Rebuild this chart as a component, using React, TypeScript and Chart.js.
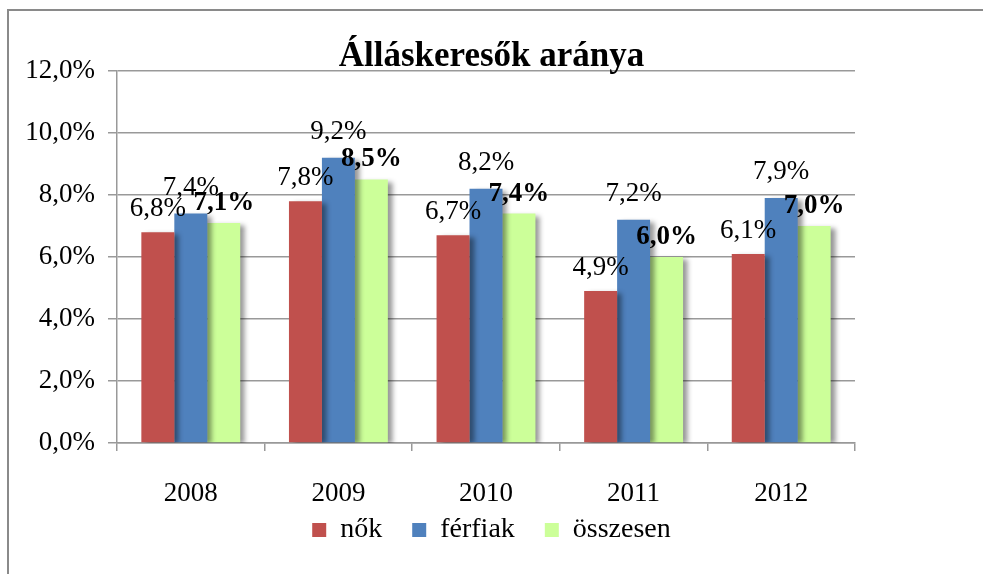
import React, { useEffect, useRef } from "react";
import { Chart, registerables } from "chart.js";

Chart.register(...registerables);

const categories = ["2008", "2009", "2010", "2011", "2012"];
const nok = [6.8, 7.8, 6.7, 4.9, 6.1];
const ferfiak = [7.4, 9.2, 8.2, 7.2, 7.9];
const osszesen = [7.1, 8.5, 7.4, 6.0, 7.0];
const seriesNames = ["nők", "férfiak", "összesen"];
const titleText = "Álláskeresők aránya";

const SERIF = "'Liberation Serif', 'Times New Roman', serif";

const fmt = (v: number) => v.toFixed(1).replace(".", ",") + "%";

const labelStyle = [
  { dx: 0, dy: -23, bold: false },
  { dx: 0, dy: -26, bold: false },
  { dx: 0, dy: -20, bold: true },
];

const LEGEND_LIFT = 20;

const barDecor = {
  id: "barDecor",
  afterLayout(chart: any) {
    const lg = chart.legend;
    if (lg) {
      lg.top -= LEGEND_LIFT;
      lg.bottom -= LEGEND_LIFT;
    }
  },
  beforeDatasetsDraw(chart: any) {
    const ctx = chart.ctx;
    ctx.save();
    ctx.shadowColor = "rgba(0,0,0,0.42)";
    ctx.shadowOffsetX = 5;
    ctx.shadowOffsetY = 2;
    ctx.shadowBlur = 5;
  },
  afterDatasetsDraw(chart: any) {
    const ctx = chart.ctx;
    ctx.restore();
    ctx.save();
    ctx.textAlign = "center";
    ctx.textBaseline = "middle";
    ctx.fillStyle = "#000";
    chart.data.datasets.forEach((ds: any, di: number) => {
      const meta = chart.getDatasetMeta(di);
      const st = labelStyle[di];
      ctx.font = `${st.bold ? "bold " : ""}27px ${SERIF}`;
      meta.data.forEach((el: any, i: number) => {
        ctx.fillText(fmt(ds.data[i]), el.x + st.dx, el.y + st.dy);
      });
    });
    ctx.restore();
  },
};

export default function App() {
  const ref = useRef<HTMLCanvasElement | null>(null);
  useEffect(() => {
    if (!ref.current) return;
    const chart = new Chart(ref.current, {
      type: "bar",
      data: {
        labels: categories,
        datasets: [
          { label: seriesNames[0], data: nok, backgroundColor: "#C0504D", borderWidth: 0 },
          { label: seriesNames[1], data: ferfiak, backgroundColor: "#4F81BD", borderWidth: 0 },
          { label: seriesNames[2], data: osszesen, backgroundColor: "#CCFF99", borderWidth: 0 },
        ],
      },
      options: {
        responsive: false,
        animation: false,
        layout: { padding: { left: 0, right: 0, top: 0, bottom: 0 } },
        datasets: { bar: { categoryPercentage: 0.67, barPercentage: 1 } },
        plugins: {
          title: {
            display: true,
            text: titleText,
            color: "#000",
            font: { family: SERIF, size: 35, weight: "bold", lineHeight: 0.8 },
            padding: { top: 43, bottom: 0 },
          },
          legend: {
            display: true,
            position: "bottom",
            labels: {
              color: "#000",
              font: { family: SERIF, size: 28 },
              boxWidth: 14,
              boxHeight: 14,
              padding: 30,
            },
          },
          tooltip: { enabled: false },
        },
        scales: {
          x: {
            grid: { drawOnChartArea: false, drawTicks: true, tickLength: 8, color: "#999", lineWidth: 1.5 },
            border: { display: true, color: "#999", width: 1.5 },
            ticks: { color: "#000", font: { family: SERIF, size: 27 }, padding: 27 },
            afterFit: (s: any) => {
              s.height = 63;
            },
          },
          y: {
            min: 0,
            max: 12,
            ticks: {
              stepSize: 2,
              color: "#000",
              font: { family: SERIF, size: 27 },
              padding: 13,
              callback: (v: any) => fmt(Number(v)),
            },
            grid: { color: "#999", lineWidth: 1.5, tickLength: 9 },
            border: { display: true, color: "#999", width: 1.5 },
            afterFit: (s: any) => {
              s.width = 117;
            },
          },
          yRight: {
            type: "linear",
            position: "right",
            display: true,
            grid: { display: false },
            border: { display: false },
            ticks: { display: false },
            afterFit: (s: any) => {
              s.width = 128;
            },
          },
        },
      } as any,
      plugins: [barDecor],
    });
    return () => chart.destroy();
  }, []);

  return (
    <div style={{ position: "fixed", left: 0, top: 0, width: 983, height: 574, overflow: "hidden", background: "#fff" }}>
      <div
        style={{
          position: "absolute",
          left: 7,
          top: 9,
          width: 1000,
          height: 600,
          borderTop: "2px solid #8a8a8a",
          borderLeft: "2px solid #8a8a8a",
        }}
      />
      <canvas ref={ref} width={983} height={574} style={{ position: "absolute", left: 0, top: 0 }} />
    </div>
  );
}
